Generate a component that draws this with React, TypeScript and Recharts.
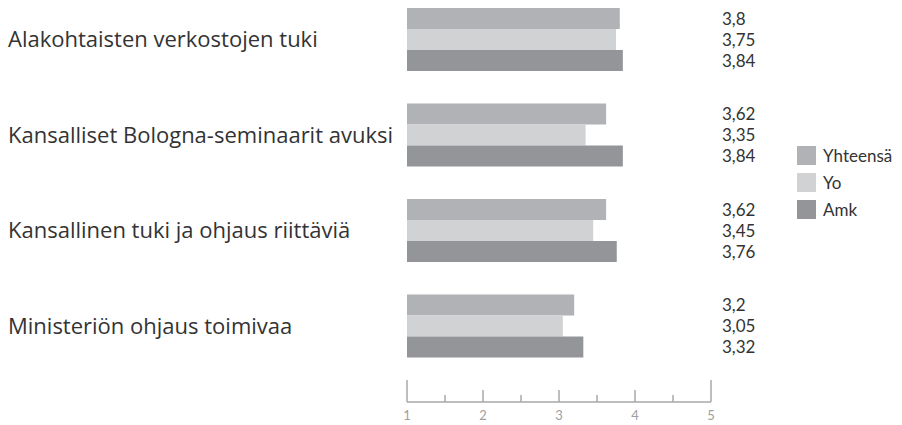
import { BarChart, Bar, XAxis, YAxis, Legend, LabelList } from 'recharts';

const categories = [
  'Alakohtaisten verkostojen tuki',
  'Kansalliset Bologna-seminaarit avuksi',
  'Kansallinen tuki ja ohjaus riittäviä',
  'Ministeriön ohjaus toimivaa',
];
const yhteensa = [3.8, 3.62, 3.62, 3.2];
const yo = [3.75, 3.35, 3.45, 3.05];
const amk = [3.84, 3.84, 3.76, 3.32];
const axisTicks = [1, 1.5, 2, 2.5, 3, 3.5, 4, 4.5, 5];

const SERIES = [
  { key: 'yhteensa', name: 'Yhteensä', color: '#b1b2b5' },
  { key: 'yo', name: 'Yo', color: '#d1d2d4' },
  { key: 'amk', name: 'Amk', color: '#939598' },
];

const FONT = 'Lato, "Open Sans", sans-serif';
const CAT_FONT = '"Open Sans", Lato, sans-serif';

const data = categories.map((name, i) => ({
  name,
  yhteensa: yhteensa[i],
  yo: yo[i],
  amk: amk[i],
}));

const CategoryTick = (props: any) => {
  const { y, payload } = props;
  return (
    <text x={8} y={y} dy={7.5} textAnchor="start" fill="#333" fontSize={22} fontFamily={CAT_FONT}>
      {payload.value}
    </text>
  );
};

const AxisTick = (props: any) => {
  const { x, y, payload } = props;
  const v = payload.value as number;
  const isInt = Number.isInteger(v);
  const isEdge = v === 1 || v === 5;
  const len = isEdge ? 22 : isInt ? 12 : 7;
  return (
    <g>
      <line x1={x} x2={x} y1={y} y2={y - len} stroke="#a7a8aa" strokeWidth={1.5} />
      {isInt && (
        <text x={x} y={y + 18} textAnchor="middle" fill="#a0a0a0" fontSize={13} fontFamily={FONT}>
          {v}
        </text>
      )}
    </g>
  );
};

// value column sits just right of the axis end (value 5)
const ValueLabel = (props: any) => {
  const { x, y, width, height, value } = props;
  const perUnit = width / (value - 1);
  const lx = x + perUnit * 4 + 11;
  return (
    <text x={lx} y={y + height / 2} dy={6} fill="#333" fontSize={17} fontFamily={FONT}>
      {String(value).replace('.', ',')}
    </text>
  );
};

const LegendContent = () => (
  <div style={{ fontFamily: FONT, fontSize: 17, color: '#333' }}>
    {SERIES.map((s) => (
      <div key={s.key} style={{ display: 'flex', alignItems: 'center', height: 27 }}>
        <div style={{ width: 19, height: 19, background: s.color, marginRight: 7 }} />
        <span>{s.name}</span>
      </div>
    ))}
  </div>
);

export default function App() {
  return (
    <div style={{ position: 'absolute', left: 0, top: 0, background: '#fff' }}>
      <BarChart
        width={902}
        height={425}
        data={data}
        layout="vertical"
        margin={{ top: -8, right: 191, bottom: 0, left: 0 }}
        barGap={0}
      >
        <XAxis
          type="number"
          domain={[1, 5]}
          ticks={axisTicks}
          allowDataOverflow
          height={23}
          tickSize={0}
          tickMargin={0}
          tickLine={false}
          axisLine={{ stroke: '#a7a8aa', strokeWidth: 1.5 }}
          tick={<AxisTick />}
          interval={0}
        />
        <YAxis
          type="category"
          dataKey="name"
          width={407}
          axisLine={false}
          tickLine={false}
          tick={<CategoryTick />}
          padding={{ top: 0, bottom: 28 }}
        />
        <Legend
          layout="horizontal"
          verticalAlign="middle"
          content={<LegendContent />}
          wrapperStyle={{ position: 'absolute', left: 797, top: 142, width: 100, height: 90 }}
        />
        {SERIES.map((s) => (
          <Bar
            key={s.key}
            dataKey={s.key}
            name={s.name}
            fill={s.color}
            barSize={21}
            isAnimationActive={false}
          >
            <LabelList dataKey={s.key} content={<ValueLabel />} />
          </Bar>
        ))}
      </BarChart>
    </div>
  );
}
